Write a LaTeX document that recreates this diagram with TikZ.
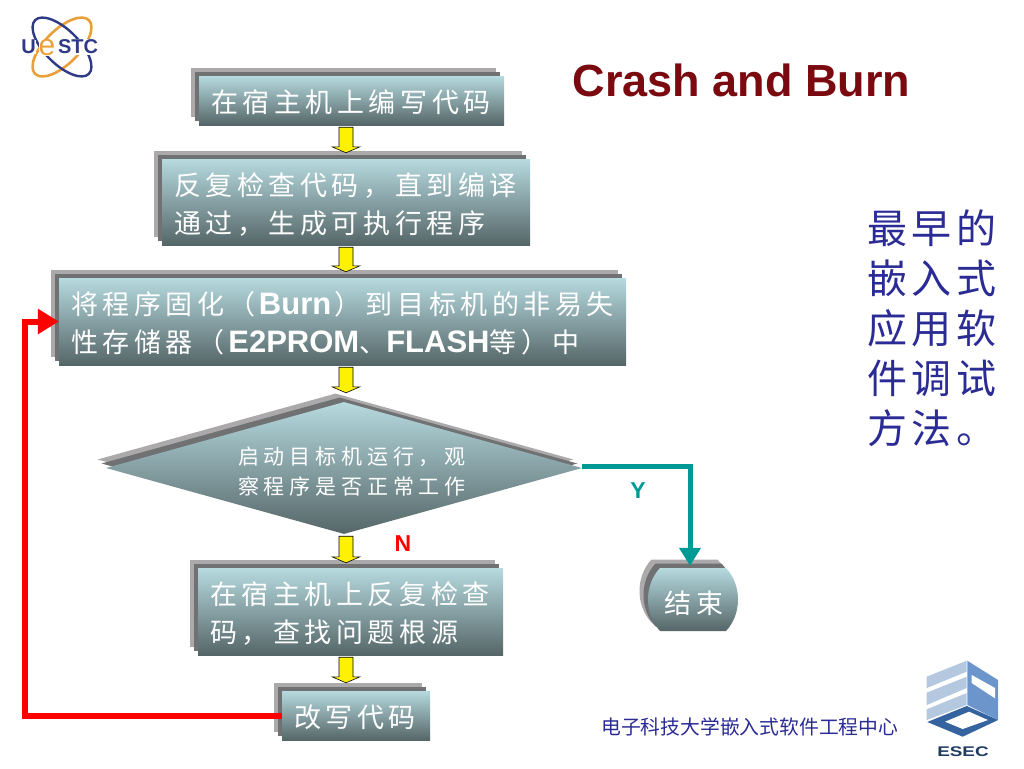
\documentclass[tikz,border=0pt]{standalone}
\usepackage{fontspec}
\usetikzlibrary{shadows,calc,arrows.meta,shapes.geometric}
\setmainfont{Liberation Sans}
\newfontfamily\boxfont[LetterSpace=17]{Noto Sans CJK SC}
\newfontfamily\asksfont[LetterSpace=23]{Noto Sans CJK SC}
\newfontfamily\sidefont[LetterSpace=12]{Noto Sans CJK SC}
\newfontfamily\footfont{Noto Sans CJK SC}
\newcommand{\latinb}[1]{{\normalfont\fontsize{31}{38}\selectfont\bfseries #1}}
\definecolor{boxtop}{HTML}{B6DADF}
\definecolor{boxmid}{HTML}{87A9AE}
\definecolor{boxlow}{HTML}{556668}
\definecolor{backgray}{HTML}{ABA9AA}
\definecolor{midgray}{HTML}{6F7173}
\definecolor{titlered}{HTML}{7A0A10}
\definecolor{navytext}{HTML}{2B2B96}
\definecolor{yesteal}{HTML}{009A96}
\definecolor{logonavy}{HTML}{2E3A86}
\definecolor{logoorange}{HTML}{E9A03B}
\definecolor{eseclight}{HTML}{B4C8E0}
\definecolor{esecmid}{HTML}{6C96CB}
\definecolor{esecdark}{HTML}{34639F}
\begin{document}
\begin{tikzpicture}[
    x=1pt, y=-1pt,
    >=Triangle,
    layered/.style={
      general shadow={shadow xshift=-8.5pt, shadow yshift=8.5pt, fill=backgray},
      general shadow={shadow xshift=-4.5pt, shadow yshift=4.5pt, fill=midgray},
      top color=boxtop, middle color=boxmid, bottom color=boxlow
    },
    stepbox/.style={layered, rectangle, inner xsep=12pt, inner ysep=0pt, align=left,
      text=white, font=\fontsize{27}{38}\selectfont\boxfont,
      execute at begin node={\rule{0pt}{27pt}}},
    askbox/.style={layered, diamond, aspect=3.6, inner sep=0pt, align=center,
      text=white, font=\fontsize{21}{30}\selectfont\asksfont},
    stoptext/.style={inner sep=0pt, text=white, font=\fontsize{27}{38}\selectfont\boxfont,
      execute at begin node={\rule{0pt}{30pt}}},
    blockflow/.style={draw=black, fill=yellow, line width=0.6pt,
      to path={let \p1=(\tikztostart), \p2=(\tikztotarget) in
        (\x1-7pt,\y1-2pt) -- (\x1+7pt,\y1-2pt) -- (\x1+7pt,\y2+#1pt+6pt) -- (\x1+14pt,\y2+#1pt+6pt)
        -- (\x1,\y2+#1pt) -- (\x1-14pt,\y2+#1pt+6pt) -- (\x1-7pt,\y2+#1pt+6pt) -- cycle}},
    blockflow/.default=6,
    yesflow/.style={draw=yesteal, line width=5pt, -{Triangle[length=18pt,width=18pt]}},
    noflow/.style={draw=red, line width=6pt, -{Triangle[length=18pt,width=18pt]}},
    flowlabel/.style={font=\fontsize{23}{26}\selectfont\bfseries}
]
  \useasboundingbox (0,0) rectangle (1024,768);

  % nodes
  \node[stepbox, text width=281pt, minimum height=49pt] (write) at (351.5,100.5)
    {在宿主机上编写代码};
  \node[stepbox, text width=344pt, minimum height=86pt] (check) at (346,202)
    {反复检查代码，直到编译\\通过，生成可执行程序};
  \node[stepbox, text width=543pt, minimum height=87pt] (burn) at (342.5,321.5)
    {将程序固化（\hspace{3pt}\latinb{Burn}\hspace{3pt}）到目标机的非易失\\性存储器（\hspace{4pt}\latinb{E2PROM}、\latinb{FLASH}等）中};
  \node[askbox, minimum width=476pt, minimum height=132pt] (run) at (344,468)
    {\parbox{260pt}{\vspace*{8pt}\centering\hspace*{16pt}启动目标机运行，观\\\hspace*{16pt}察程序是否正常工作}};
  \node[stepbox, text width=281pt, minimum height=87pt] (debug) at (350.5,611.5)
    {在宿主机上反复检查\\码，查找问题根源};
  \node[stepbox, text width=124pt, minimum height=49pt] (rewrite) at (356,715.5)
    {改写代码};

  % the stop shape is a barrel, its text sits on top
  \path[layered] (660,568) -- (726,568) .. controls (742,585) and (742,614) .. (726,631)
    -- (660,631) .. controls (644,614) and (644,585) .. (660,568) -- cycle;
  \node[stoptext, minimum width=88pt, minimum height=63pt] (finish) at (694,599.5) {结束};

  \coordinate (axis) at (346,0);
  \coordinate (loop) at (25,0);

  % edges
  \draw[blockflow] (axis |- write.south) to (axis |- check.north);
  \draw[blockflow] (axis |- check.south) to (axis |- burn.north);
  \draw[blockflow=9] (axis |- burn.south) to (axis |- run.north);
  \draw[blockflow=5] (axis |- run.south) to (axis |- debug.north);
  \draw[blockflow=8] (axis |- debug.south) to (axis |- rewrite.north);
  \draw[yesflow, ->] ([yshift=2pt]run.east) -| ([xshift=-4pt,yshift=2pt]finish.north);
  \draw[noflow, ->] (rewrite.west) -- (loop |- rewrite.west) -- (loop |- burn.west) -- (burn.west);

  % labels
  \node[flowlabel, text=yesteal] (yes) at (638,491) {Y};
  \node[flowlabel, text=red] (no) at (403,544) {N};
  \node[anchor=west, text=titlered, font=\fontsize{45}{50}\selectfont\bfseries] (title) at (569,80)
    {Crash and Burn};
  \node[anchor=north west, inner sep=0pt, align=left, text=navytext,
        font=\fontsize{40}{50}\selectfont\sidefont] (side) at (867,210)
    {最早的\\嵌入式\\应用软\\件调试\\方法。};
  \node[anchor=west, inner sep=0pt, text=navytext, font=\fontsize{19.8}{24}\selectfont\footfont] (foot) at (601,727)
    {电子科技大学嵌入式软件工程中心};

  % uestc logo
  \draw[logoorange, line width=2.6pt] (62,47) ellipse [x radius=38, y radius=17, rotate=45];
  \draw[logonavy, line width=2.4pt] (62,47) ellipse [x radius=38, y radius=17, rotate=-45];
  \node[fill=white, inner sep=1pt, text=logonavy, font=\fontsize{20}{20}\selectfont\bfseries] (letterstc) at (78,47) {STC};
  \node[fill=white, inner sep=0pt, text=logoorange, font=\fontsize{30}{30}\selectfont] (lettere) at (47,48) {e};
  \node[fill=white, inner sep=0pt, text=logonavy, font=\fontsize{20}{20}\selectfont\bfseries] (letteru) at (28.5,47) {U};

  % esec logo
  \fill[eseclight] (926.7,676.7) -- (966.7,660.7) -- (966.7,671.7) -- (926.7,688) -- cycle;
  \fill[eseclight] (926.7,692.7) -- (966.7,676.7) -- (966.7,688) -- (926.7,705) -- cycle;
  \fill[eseclight] (926.7,709.3) -- (966.7,693) -- (966.7,705) -- (926.7,720) -- cycle;
  \fill[esecmid] (967.3,660.7) -- (998,680) -- (998,720) -- (967.3,705) -- cycle;
  \fill[white] (971.7,675) -- (995,688) -- (995,698.3) -- (971.7,683) -- cycle;
  \fill[esecdark] (927.3,722) -- (966.7,706) -- (998,720) -- (962.7,736.7) -- cycle;
  \fill[white] (945,721.7) -- (969,711.7) -- (988,720) -- (962.7,729) -- cycle;
  \node[inner sep=0pt, xscale=1.35, transform shape, text=esecdark!60!black, font=\fontsize{14}{14}\selectfont\bfseries] (esec) at (963,752) {ESEC};
\end{tikzpicture}
\end{document}
